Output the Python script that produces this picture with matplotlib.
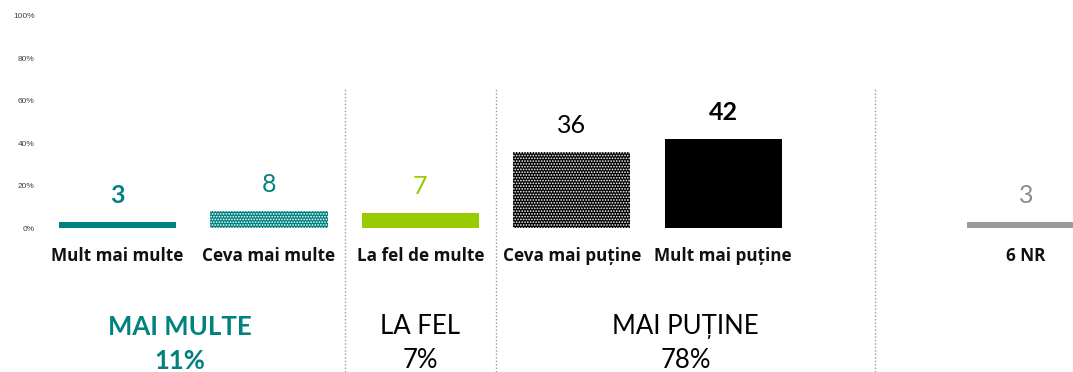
import matplotlib.pyplot as plt
import matplotlib.transforms as mtransforms
from matplotlib.lines import Line2D

#%% Data
categories = ["Mult mai multe", "Ceva mai multe", "La fel de multe",
              "Ceva mai puține", "Mult mai puține", "", "6 NR"]
values = [3, 8, 7, 36, 42, None, 3]
bar_colors = ["#00827f", "#00827f", "#99cc00", "#000000", "#000000", None, "#9b9b9b"]
bar_hatch = [None, "......", None, "......", None, None, None]
label_colors = ["#00827f", "#00827f", "#99cc00", "#000000", "#000000", None, "#8c8c8c"]
label_bold = [True, False, False, False, True, None, False]

group_names = ["MAI MULTE", "LA FEL", "MAI PUȚINE"]
group_totals = ["11%", "7%", "78%"]
group_colors = ["#00827f", "#000000", "#000000"]
group_bold = [True, False, False]
group_x = [0.41, 2.0, 3.75]
separators = [1.5, 2.5, 5.0]

yticks = [0, 20, 40, 60, 80, 100]

#%% Plot
plt.rcParams['font.family'] = ['Lato', 'DejaVu Sans']
plt.rcParams['hatch.linewidth'] = 0.8

fig = plt.figure(figsize=(10.73, 3.72), dpi=100)
ax = fig.add_axes([0.0389, 0.387, 0.988, 0.570])

for i, v in enumerate(values):
    if v is None:
        continue
    ax.bar(i, v, width=0.775, color=bar_colors[i], hatch=bar_hatch[i],
           edgecolor="white" if bar_hatch[i] else bar_colors[i], linewidth=0)
    ax.annotate(f"{v}", (i, v), xytext=(0, 19), textcoords="offset points",
                ha="center", va="center", fontsize=18, color=label_colors[i],
                fontweight="bold" if label_bold[i] else "normal")

ax.set_xlim(-0.5, 6.5)
ax.set_ylim(0, 100)
ax.set_yticks(yticks)
ax.set_yticklabels([f"{t}%" for t in yticks], fontsize=6, color="#404040",
                   family="Liberation Sans")
ax.set_xticks(range(len(categories)))
ax.set_xticklabels(categories, fontsize=12.3, fontweight="bold", color="#111111",
                   family="Open Sans")
ax.tick_params(axis="y", length=0, pad=5)
ax.tick_params(axis="x", length=0, pad=14)
for s in ax.spines.values():
    s.set_visible(False)

# dotted separators between groups, running to the bottom of the figure
trans = mtransforms.blended_transform_factory(ax.transData, fig.transFigure)
for x in separators:
    fig.add_artist(Line2D([x, x], [0.0, 0.763], transform=trans, color="#9a9a9a",
                          linestyle=(0, (1, 1.5)), linewidth=1))

# group headers and totals
for name, tot, gx, c, b in zip(group_names, group_totals, group_x, group_colors, group_bold):
    w = "bold" if b else "normal"
    fig.text(gx, 0.122, name, transform=trans, ha="center", va="center",
             fontsize=18.5, color=c, fontweight=w)
    fig.text(gx, 0.03, tot, transform=trans, ha="center", va="center",
             fontsize=18.5, color=c, fontweight=w)

fig.savefig("out.png", dpi=100)
